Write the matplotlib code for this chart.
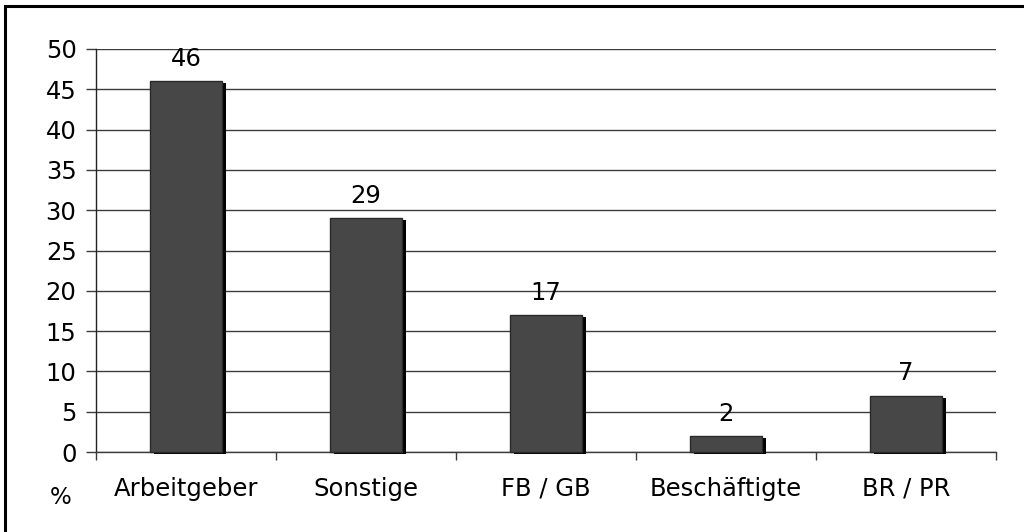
import matplotlib
matplotlib.use("Agg")
import matplotlib.pyplot as plt
import matplotlib.transforms as mtransforms
from matplotlib.patches import Rectangle
import numpy as np

categories = ["Arbeitgeber", "Sonstige", "FB / GB", "Beschäftigte", "BR / PR"]
values = [46, 29, 17, 2, 7]
yticks = [0, 5, 10, 15, 20, 25, 30, 35, 40, 45, 50]
unit_label = "%"

plt.rcParams['font.family'] = ['DejaVu Sans']
FS = 17.5

fig = plt.figure(figsize=(10.24, 5.32), dpi=100)
ax = fig.add_axes([96/1024, 1 - 452/532, (996 - 96)/1024, (452 - 49)/532])

x = np.arange(len(categories))
width = 0.4

# shadow bars
shadow_tr = mtransforms.offset_copy(ax.transData, fig=fig, x=4, y=-2, units='dots')
ax.bar(x, values, width=width, color='black', edgecolor='black', linewidth=0,
       transform=shadow_tr, zorder=3, clip_on=False)
ax.bar(x, values, width=width, color='#474747', edgecolor='#2a2a2a', linewidth=1.0,
       zorder=4, clip_on=False)

for xi, v in zip(x, values):
    ax.annotate(str(v), (xi, v), xytext=(0, 11), textcoords='offset points',
                ha='center', va='baseline', fontsize=FS, color='black', zorder=5)

ax.set_xlim(-0.5, len(categories) - 0.5)
ax.set_ylim(0, 50)
ax.set_yticks(yticks)
ax.set_yticklabels([str(t) for t in yticks], fontsize=FS)
ax.yaxis.grid(True, color='#3c3c3c', linewidth=1.0, zorder=1)
ax.set_axisbelow(True)

ax.set_xticks(x)
ax.set_xticklabels(categories, fontsize=FS)
ax.set_xticks(np.arange(-0.5, len(categories), 1.0), minor=True)
ax.tick_params(axis='x', which='major', length=0, pad=18)
ax.tick_params(axis='x', which='minor', length=6, width=1, color='#3c3c3c', direction='out')
ax.tick_params(axis='y', which='major', length=7, width=1, color='#3c3c3c', pad=7)

for s in ['top', 'right']:
    ax.spines[s].set_visible(False)
ax.spines['left'].set_color('#222222')
ax.spines['left'].set_linewidth(1.0)
ax.spines['bottom'].set_color('#3c3c3c')
ax.spines['bottom'].set_linewidth(1.0)

fig.text(61/1024, 1 - 498/532, unit_label, fontsize=16.5, ha='center', va='center')

# outer frame
fig.patches.append(Rectangle((5/1024, -0.1), 1.2, 1 - 6/532 + 0.1, transform=fig.transFigure,
                             fill=False, edgecolor='black', linewidth=2.2))

fig.savefig("out.png", dpi=100)
